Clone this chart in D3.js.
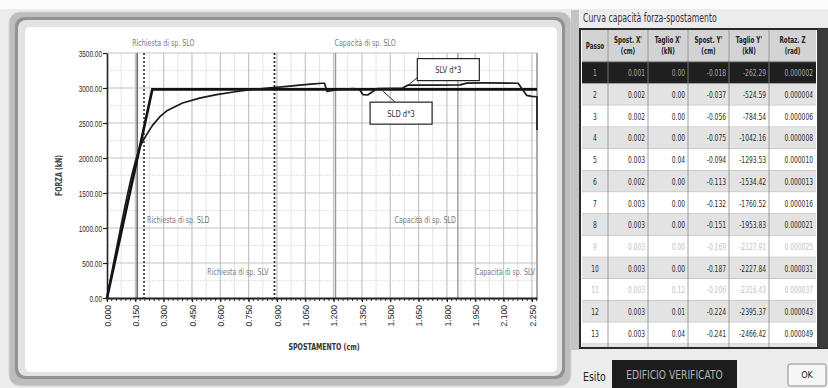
<!DOCTYPE html>
<html>
<head>
<meta charset="utf-8">
<script src="https://cdn.jsdelivr.net/npm/d3@7"></script>
<style>
  body { margin: 0; background: #eeeeee; }
  svg { display: block; font-family: 'Liberation Sans Narrow', 'DejaVu Sans Condensed', 'Arial Narrow', sans-serif; }
</style>
</head>
<body>
<svg id="chart" width="828" height="388"></svg>
<script>
// --- capacity curve (spostamento cm / forza kN)
const capX = [0, 0.018, 0.037, 0.056, 0.075, 0.094, 0.113, 0.132, 0.151, 0.169, 0.187, 0.206, 0.224, 0.241,
  0.28, 0.32, 0.40, 0.49, 0.58, 0.67, 0.76, 0.85, 0.94, 1.02, 1.08, 1.137, 1.152, 1.165, 1.22, 1.30, 1.335,
  1.356, 1.38, 1.40, 1.43, 1.50, 1.565, 1.595, 1.75, 1.87, 1.905, 2.00, 2.177, 2.222, 2.25, 2.277, 2.277];
const capY = [0, 262, 525, 785, 1042, 1294, 1534, 1761, 1954, 2128, 2228, 2316, 2395, 2466,
  2590, 2680, 2785, 2855, 2905, 2943, 2975, 3000, 3020, 3040, 3055, 3068, 3068, 2950, 2975, 2990, 2985,
  2905, 2900, 2935, 2990, 2995, 3000, 3043, 3040, 3045, 3070, 3072, 3068, 2895, 2880, 2875, 2400];

// --- bilinear equivalent
const bilX = [0, 0.24, 2.277];
const bilY = [0, 2980, 2980];

// --- demand / capacity displacements
const refLabels = ['Richiesta di sp. SLO', 'Richiesta di sp. SLD', 'Richiesta di sp. SLV',
  'Capacità di sp. SLO', 'Capacità di sp. SLD', 'Capacità di sp. SLV'];
const refValues = [0.160, 0.196, 0.887, 1.210, 1.858, 2.277];

// --- callouts
const noteLabels = ['SLV d*3', 'SLD d*3'];
const noteX = [1.585, 1.462];
const noteY = [3020, 2955];

// --- axes
const xTicks = [0, 0.15, 0.30, 0.45, 0.60, 0.75, 0.90, 1.05, 1.20, 1.35, 1.50, 1.65, 1.80, 1.95, 2.10, 2.25];
const yTicks = [0, 500, 1000, 1500, 2000, 2500, 3000, 3500];

// --- table "Curva capacità forza-spostamento"
const colHeads = [['Passo'], ["Spost. X'", '(cm)'], ["Taglio X'", '(kN)'], ["Spost. Y'", '(cm)'], ["Taglio Y'", '(kN)'], ['Rotaz. Z', '(rad)']];
const passo = [1, 2, 3, 4, 5, 6, 7, 8, 9, 10, 11, 12, 13, 14];
const spostX = [0.001, 0.002, 0.002, 0.002, 0.003, 0.002, 0.003, 0.003, 0.003, 0.003, 0.003, 0.003, 0.003, 0.003];
const taglioX = [0.00, 0.00, 0.00, 0.00, 0.04, 0.00, 0.00, 0.00, 0.00, 0.00, 0.12, 0.01, 0.04, 0.05];
const spostY = [-0.018, -0.037, -0.056, -0.075, -0.094, -0.113, -0.132, -0.151, -0.169, -0.187, -0.206, -0.224, -0.241, -0.258];
const taglioY = [-262.29, -524.59, -784.54, -1042.16, -1293.53, -1534.42, -1760.52, -1953.83, -2127.91, -2227.84, -2316.43, -2395.37, -2466.42, -2531.20];
const rotZ = [0.000002, 0.000004, 0.000006, 0.000008, 0.000010, 0.000013, 0.000016, 0.000021, 0.000025, 0.000031, 0.000037, 0.000043, 0.000049, 0.000056];
const fadedRows = [9, 11];

const svg = d3.select('#chart');

// squeeze text horizontally to mimic the narrow UI font
function squeeze(sel, k) {
  sel.each(function () {
    const w = this.getComputedTextLength();
    if (w > 0) {
      this.setAttribute('textLength', w * k);
      this.setAttribute('lengthAdjust', 'spacingAndGlyphs');
    }
  });
}

// window background
svg.append('rect').attr('width', 828).attr('height', 388).attr('fill', '#ececec');
svg.append('rect').attr('width', 828).attr('height', 9).attr('fill', '#fbfbfb');

// chart panel with bevelled border
svg.append('rect').attr('x', 9).attr('y', 12).attr('width', 562).attr('height', 374).attr('rx', 11)
  .attr('fill', '#bdbdbd').attr('stroke', '#d6d6d6');
svg.append('rect').attr('x', 15).attr('y', 17).attr('width', 550).attr('height', 362).attr('rx', 9)
  .attr('fill', '#929292');
svg.append('rect').attr('x', 18).attr('y', 20).attr('width', 544).attr('height', 356).attr('rx', 8)
  .attr('fill', '#e2e2e2');
svg.append('rect').attr('x', 25).attr('y', 27).attr('width', 532).attr('height', 345).attr('rx', 5)
  .attr('fill', '#ffffff');

// scales
const x = d3.scaleLinear().domain([0, 2.277]).range([107, 537]);
const y = d3.scaleLinear().domain([0, 3500]).range([298, 53]);

const plot = svg.append('g');

// minor grid
const xMinor = xTicks.map(d => d + 0.075).filter(d => d < 2.277);
const yMinor = yTicks.map(d => d + 250).filter(d => d < 3500);
plot.selectAll('.vminor').data(xMinor).enter().append('line')
  .attr('x1', d => x(d)).attr('x2', d => x(d)).attr('y1', y(3500)).attr('y2', y(0))
  .attr('stroke', '#e4e4e4').attr('stroke-width', 1);
plot.selectAll('.hminor').data(yMinor).enter().append('line')
  .attr('x1', x(0)).attr('x2', x(2.277)).attr('y1', d => y(d)).attr('y2', d => y(d))
  .attr('stroke', '#e4e4e4').attr('stroke-width', 1).attr('stroke-dasharray', '2,1');

// major grid
plot.selectAll('.vgrid').data(xTicks.slice(1)).enter().append('line')
  .attr('x1', d => x(d)).attr('x2', d => x(d)).attr('y1', y(3500)).attr('y2', y(0))
  .attr('stroke', '#c4c4c4').attr('stroke-width', 1.2);
plot.selectAll('.hgrid').data(yTicks.slice(1)).enter().append('line')
  .attr('x1', x(0)).attr('x2', x(2.277)).attr('y1', d => y(d)).attr('y2', d => y(d))
  .attr('stroke', '#c4c4c4').attr('stroke-width', 1.2);
plot.append('line').attr('x1', x(2.277)).attr('x2', x(2.277)).attr('y1', y(3500)).attr('y2', y(0))
  .attr('stroke', '#b0b0b0').attr('stroke-width', 1.2);

// reference lines (richiesta / capacità)
const refStyle = [
  { stroke: '#6a6a6a', dash: null, w: 1.6 },
  { stroke: '#333333', dash: '2,2', w: 1.6 },
  { stroke: '#333333', dash: '2,2', w: 1.8 },
  { stroke: '#9a9a9a', dash: null, w: 1.4 },
  { stroke: '#9a9a9a', dash: null, w: 1.4 },
  { stroke: '#9a9a9a', dash: null, w: 1.4 }
];
plot.selectAll('.ref').data(refValues).enter().append('line')
  .attr('x1', d => x(d)).attr('x2', d => x(d)).attr('y1', y(3500)).attr('y2', y(0))
  .attr('stroke', (d, i) => refStyle[i].stroke)
  .attr('stroke-width', (d, i) => refStyle[i].w)
  .attr('stroke-dasharray', (d, i) => refStyle[i].dash);

// label placement: [dx from line, baseline y, anchor]
const refPlace = [[-5, 46, 'start'], [3, 223, 'start'], [-6, 275, 'end'],
  [-1, 46, 'start'], [-2, 223, 'end'], [-2, 275, 'end']];
const refText = plot.selectAll('.reflabel').data(refLabels).enter().append('text')
  .attr('x', (d, i) => x(refValues[i]) + refPlace[i][0])
  .attr('y', (d, i) => refPlace[i][1])
  .attr('text-anchor', (d, i) => refPlace[i][2])
  .attr('font-size', 9.5).attr('fill', '#7a7a7a')
  .text(d => d);
squeeze(refText, 0.74);

// axes
const yAxis = plot.append('g').attr('transform', `translate(${x(0)},0)`)
  .call(d3.axisLeft(y).tickValues(yTicks).tickFormat(d3.format('.2f')).tickSize(4).tickSizeOuter(0));
yAxis.select('.domain').attr('stroke', '#222').attr('stroke-width', 1.6);
yAxis.selectAll('.tick line').attr('stroke', '#222').attr('stroke-width', 1.2);
yAxis.selectAll('text').attr('font-size', 9.5).attr('fill', '#2a2a2a').attr('font-family', null).attr('x', -5);
squeeze(yAxis.selectAll('text'), 0.68);

const xMinorTicks = d3.range(0, 2.28, 0.025);
plot.selectAll('.xmt').data(xMinorTicks).enter().append('line')
  .attr('x1', d => x(d)).attr('x2', d => x(d)).attr('y1', y(0)).attr('y2', y(0) + 3)
  .attr('stroke', '#333').attr('stroke-width', 1);

const xAxis = plot.append('g').attr('transform', `translate(0,${y(0)})`)
  .call(d3.axisBottom(x).tickValues(xTicks).tickFormat(d3.format('.3f')).tickSize(4).tickSizeOuter(0));
xAxis.select('.domain').attr('stroke', '#222').attr('stroke-width', 2);
xAxis.selectAll('.tick line').attr('stroke', '#222').attr('stroke-width', 1.2);
xAxis.selectAll('text')
  .attr('font-size', 9.5).attr('fill', '#2a2a2a').attr('font-family', null)
  .attr('transform', 'rotate(-90)')
  .attr('text-anchor', 'end')
  .attr('x', -7).attr('y', 0).attr('dy', '0.35em');
squeeze(xAxis.selectAll('text'), 0.9);

const yTitle = svg.append('text').attr('transform', `translate(62,${y(1750)}) rotate(-90)`)
  .attr('text-anchor', 'middle').attr('font-size', 8.5).attr('font-weight', 'bold').attr('fill', '#444')
  .text('FORZA (kN)');
const xTitle = svg.append('text').attr('x', 324).attr('y', 350)
  .attr('text-anchor', 'middle').attr('font-size', 8.5).attr('font-weight', 'bold').attr('fill', '#333')
  .text('SPOSTAMENTO (cm)');
squeeze(yTitle, 0.82);
squeeze(xTitle, 0.82);

// curves
const line = d3.line().x(d => x(d[0])).y(d => y(d[1]));
plot.append('path').datum(bilX.map((d, i) => [d, bilY[i]]))
  .attr('d', line).attr('fill', 'none').attr('stroke', '#111').attr('stroke-width', 2.6);
plot.append('path').datum(capX.map((d, i) => [d, capY[i]]))
  .attr('d', line).attr('fill', 'none').attr('stroke', '#1a1a1a').attr('stroke-width', 1.7)
  .attr('stroke-linejoin', 'round');

// callouts: [box dx, box dy] from anchor point
const notePlace = [[11, -28], [-13, 11]];
const noteW = 62, noteH = 22;
noteLabels.forEach((lab, i) => {
  const px = x(noteX[i]), py = y(noteY[i]);
  const bx = px + notePlace[i][0], by = py + notePlace[i][1];
  const ex = i === 0 ? bx : px + 12;
  const ey = i === 0 ? by + noteH - 3 : by;
  plot.append('line').attr('x1', px).attr('y1', py).attr('x2', ex).attr('y2', ey)
    .attr('stroke', '#222').attr('stroke-width', 1);
  plot.append('rect').attr('x', bx).attr('y', by).attr('width', noteW).attr('height', noteH)
    .attr('fill', '#fff').attr('stroke', '#222').attr('stroke-width', 1.2);
  const t = plot.append('text').attr('x', bx + noteW / 2).attr('y', by + noteH / 2 + 3.5)
    .attr('text-anchor', 'middle').attr('font-size', 9.5).attr('fill', '#333').text(lab);
  squeeze(t, 0.8);
});

// ---- right side: table
svg.append('rect').attr('x', 571).attr('y', 10).attr('width', 8).attr('height', 340).attr('fill', '#c4c4c4');
const title = svg.append('text').attr('x', 583).attr('y', 22).attr('font-size', 12).attr('fill', '#333')
  .text('Curva capacità forza-spostamento');
squeeze(title, 0.72);

const colEdges = [582, 608, 648, 688, 729, 769, 816];
const tTop = 30, headH = 32, rowH = 21.7, tBottom = 347;

svg.append('rect').attr('x', 580).attr('y', tTop - 1).attr('width', 248).attr('height', tBottom - tTop + 2)
  .attr('fill', '#ffffff').attr('stroke', '#2a2a2a').attr('stroke-width', 2);
svg.append('rect').attr('x', 817).attr('y', tTop - 1).attr('width', 11).attr('height', tBottom - tTop + 2)
  .attr('fill', '#3a3a3a');

// header
svg.append('rect').attr('x', colEdges[0]).attr('y', tTop).attr('width', colEdges[6] - colEdges[0]).attr('height', headH)
  .attr('fill', '#d3d3d3');
colHeads.forEach((h, c) => {
  const cx = (colEdges[c] + colEdges[c + 1]) / 2;
  const t = svg.append('text').attr('text-anchor', 'middle').attr('font-size', 8)
    .attr('font-weight', 'bold').attr('fill', '#222');
  if (h.length === 1) {
    t.append('tspan').attr('x', cx).attr('y', tTop + headH / 2 + 3).text(h[0]);
  } else {
    t.append('tspan').attr('x', cx).attr('y', tTop + 13).text(h[0]);
    t.append('tspan').attr('x', cx).attr('y', tTop + 24).text(h[1]);
  }
  squeeze(t.selectAll('tspan'), 0.78);
});

// rows
svg.append('clipPath').attr('id', 'tclip').append('rect')
  .attr('x', colEdges[0]).attr('y', tTop + headH).attr('width', colEdges[6] - colEdges[0]).attr('height', tBottom - tTop - headH);
const body = svg.append('g').attr('clip-path', 'url(#tclip)');
const cols = [passo, spostX, taglioX, spostY, taglioY, rotZ];
const fmts = [d3.format('d'), d3.format('.3f'), d3.format('.2f'), d3.format('.3f'), d3.format('.2f'), d3.format('.6f')];

passo.forEach((p, r) => {
  const ry = tTop + headH + r * rowH;
  const fill = r === 0 ? '#1f1f1f' : (p % 2 === 0 ? '#e3e3e3' : '#ffffff');
  body.append('rect').attr('x', colEdges[0]).attr('y', ry).attr('width', colEdges[6] - colEdges[0]).attr('height', rowH)
    .attr('fill', fill);
  const col = r === 0 ? '#a8a8a8' : (fadedRows.includes(p) ? '#c2c2c2' : '#2a2a2a');
  cols.forEach((arr, c) => {
    const v = fmts[c](arr[r]).replace('−', '-');
    const t = body.append('text')
      .attr('x', c === 0 ? (colEdges[0] + colEdges[1]) / 2 : colEdges[c + 1] - 3)
      .attr('y', ry + rowH / 2 + 3.5)
      .attr('text-anchor', c === 0 ? 'middle' : 'end')
      .attr('font-size', 8.5).attr('fill', col).text(v);
    squeeze(t, 0.78);
  });
  body.append('line').attr('x1', colEdges[0]).attr('x2', colEdges[6]).attr('y1', ry + rowH).attr('y2', ry + rowH)
    .attr('stroke', '#9a9a9a').attr('stroke-width', 0.8);
});
colEdges.slice(1, 6).forEach(cx => {
  svg.append('line').attr('x1', cx).attr('x2', cx).attr('y1', tTop).attr('y2', tBottom)
    .attr('stroke', '#8a8a8a').attr('stroke-width', 0.8);
});
svg.append('line').attr('x1', colEdges[0]).attr('x2', colEdges[6]).attr('y1', tTop + headH).attr('y2', tTop + headH)
  .attr('stroke', '#555').attr('stroke-width', 1);

// esito + button
const esito = svg.append('text').attr('x', 583).attr('y', 381).attr('font-size', 13).attr('fill', '#222').text('Esito');
squeeze(esito, 0.8);
svg.append('rect').attr('x', 612).attr('y', 360).attr('width', 125).attr('height', 30).attr('fill', '#1c1c1c');
const ver = svg.append('text').attr('x', 674.5).attr('y', 379).attr('text-anchor', 'middle').attr('font-size', 12)
  .attr('fill', '#b4b4b4').text('EDIFICIO VERIFICATO');
squeeze(ver, 0.85);
svg.append('rect').attr('x', 788).attr('y', 364).attr('width', 38).attr('height', 22).attr('rx', 2)
  .attr('fill', '#f7f7f7').attr('stroke', '#8a8a8a');
svg.append('text').attr('x', 807).attr('y', 378).attr('text-anchor', 'middle').attr('font-size', 9)
  .attr('fill', '#222').text('OK');
</script>
</body>
</html>
